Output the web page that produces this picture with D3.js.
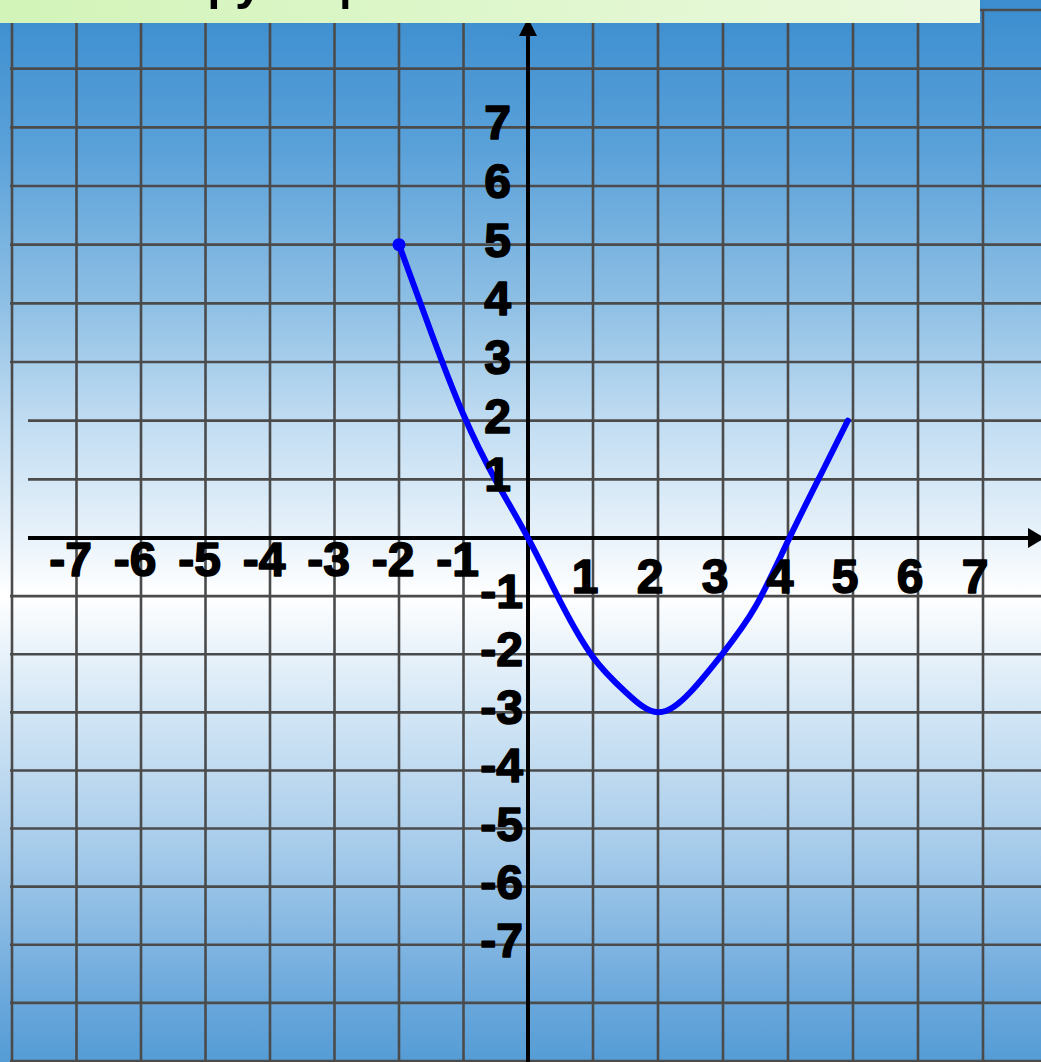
<!DOCTYPE html>
<html>
<head>
<meta charset="utf-8">
<script src="https://cdn.jsdelivr.net/npm/d3@7"></script>
<style>
  html, body { margin: 0; padding: 0; background: #ffffff; overflow: hidden; }
  svg { display: block; }
</style>
</head>
<body>
<svg id="chart" width="1041" height="1062"></svg>
<script>
// Grid lines (in axis units)
const gridXValues = [-8, -7, -6, -5, -4, -3, -2, -1, 1, 2, 3, 4, 5, 6, 7];
const gridYValues = [-9, -8, -7, -6, -5, -4, -3, -2, -1, 1, 2, 3, 4, 5, 6, 7, 8, 9];

// Tick labels
const xTickValues = [-7, -6, -5, -4, -3, -2, -1, 1, 2, 3, 4, 5, 6, 7];
const yTickValues = [7, 6, 5, 4, 3, 2, 1, -1, -2, -3, -4, -5, -6, -7];

// Function graph: sampled points of y = f(x) on [-2, 5]
const curveX = [-2, -1.5, -1, -0.5, 0, 0.5, 1, 1.5, 2, 2.5, 3, 3.5, 4, 4.5, 4.92];
const curveY = [5, 3.5, 2.1, 0.98, 0, -1.1, -2.05, -2.65, -3, -2.65, -1.98, -1.18, -0.05, 1.07, 2];

// Title of the slide header
const titleText = "Свойства функции";

const W = 1041, H = 1062;
const svg = d3.select("#chart");

const x = d3.scaleLinear().domain([-8, 0, 7]).range([12, 528, 983]);
const y = d3.scaleLinear().domain([-9, 0, 9]).range([1061, 538, 10]);

// Background gradient: blue at top and bottom, white near the x-axis
const defs = svg.append("defs");
const bg = defs.append("linearGradient").attr("id", "bg")
  .attr("x1", 0).attr("y1", 0).attr("x2", 0).attr("y2", 1);
[
  [0, "#3b8dcf"],
  [0.14, "#5aa1d9"],
  [0.28, "#8cbee4"],
  [0.40, "#c2ddf2"],
  [0.50, "#e6f1fa"],
  [0.56, "#ffffff"],
  [0.66, "#d6e8f6"],
  [0.80, "#a6cbea"],
  [0.94, "#6aa8dc"],
  [1, "#559cd5"]
].forEach(([o, c]) => bg.append("stop").attr("offset", o).attr("stop-color", c));

const banner = defs.append("linearGradient").attr("id", "banner")
  .attr("x1", 0).attr("y1", 0).attr("x2", 1).attr("y2", 0);
banner.append("stop").attr("offset", 0).attr("stop-color", "#d2f4b8");
banner.append("stop").attr("offset", 1).attr("stop-color", "#ebf9df");

svg.append("rect").attr("width", W).attr("height", H).attr("fill", "url(#bg)");

// Grid
const grid = svg.append("g").attr("stroke", "#4b4b4b").attr("stroke-width", 2.6);
grid.selectAll("line.v").data(gridXValues).join("line")
  .attr("class", "v")
  .attr("x1", d => x(d)).attr("x2", d => x(d))
  .attr("y1", y(9)).attr("y2", H);
grid.selectAll("line.h").data(gridYValues).join("line")
  .attr("class", "h")
  .attr("x1", d => (d === 1 || d === 2) ? 28 : x(-8) - 2).attr("x2", W)
  .attr("y1", d => y(d)).attr("y2", d => y(d));

// Axes with arrows
const axes = svg.append("g");
axes.append("line")
  .attr("x1", 28).attr("x2", W - 10)
  .attr("y1", y(0)).attr("y2", y(0))
  .attr("stroke", "#000").attr("stroke-width", 4);
axes.append("path")
  .attr("d", `M${W - 13},${y(0) - 10} L${W + 4},${y(0)} L${W - 13},${y(0) + 10} Z`)
  .attr("fill", "#000");
axes.append("line")
  .attr("x1", x(0)).attr("x2", x(0))
  .attr("y1", H).attr("y2", 30)
  .attr("stroke", "#000").attr("stroke-width", 4);
axes.append("path")
  .attr("d", `M${x(0) - 9},36 L${x(0)},18 L${x(0) + 9},36 Z`)
  .attr("fill", "#000");

// Header banner (its title runs past the top edge)
svg.append("rect").attr("x", 0).attr("y", 0).attr("width", 980).attr("height", 23)
  .attr("fill", "url(#banner)");
const title = svg.append("text")
  .attr("y", -1)
  .attr("font-family", "'Liberation Sans', Arial, sans-serif")
  .attr("font-weight", "bold")
  .attr("font-size", 50)
  .attr("fill", "#000")
  .text(titleText);
const preLen = title.node().getSubStringLength(0, titleText.indexOf("ф"));
title.attr("x", 192 - preLen);

// Function curve
const pts = curveX.map((v, i) => [v, curveY[i]]);
const line = d3.line().x(d => x(d[0])).y(d => y(d[1])).curve(d3.curveNatural);
svg.append("path")
  .datum(pts)
  .attr("d", line)
  .attr("fill", "none")
  .attr("stroke", "#0000ff")
  .attr("stroke-width", 6)
  .attr("stroke-linecap", "round")
  .attr("stroke-linejoin", "round");
svg.append("circle")
  .attr("cx", x(curveX[0])).attr("cy", y(curveY[0]))
  .attr("r", 6.5).attr("fill", "#0000ff");

// Tick labels (heavy bold digits)
const labels = svg.append("g")
  .attr("font-family", "'Liberation Sans', Arial, sans-serif")
  .attr("font-weight", "bold")
  .attr("font-size", 48)
  .attr("fill", "#000")
  .attr("stroke", "#000")
  .attr("stroke-width", 1.6)
  .attr("stroke-linejoin", "round");

labels.selectAll("text.xt").data(xTickValues).join("text")
  .attr("class", "xt")
  .attr("text-anchor", "middle")
  .attr("x", d => x(d) - (d < 0 ? 6 : 8))
  .attr("y", d => d < 0 ? y(0) + 38 : y(0) + 55)
  .text(d => d);

labels.selectAll("text.yt").data(yTickValues).join("text")
  .attr("class", "yt")
  .attr("text-anchor", "end")
  .attr("x", d => d > 0 ? x(0) - 17 : x(0) - 5)
  .attr("y", d => y(d) + 12)
  .text(d => d);
</script>
</body>
</html>
